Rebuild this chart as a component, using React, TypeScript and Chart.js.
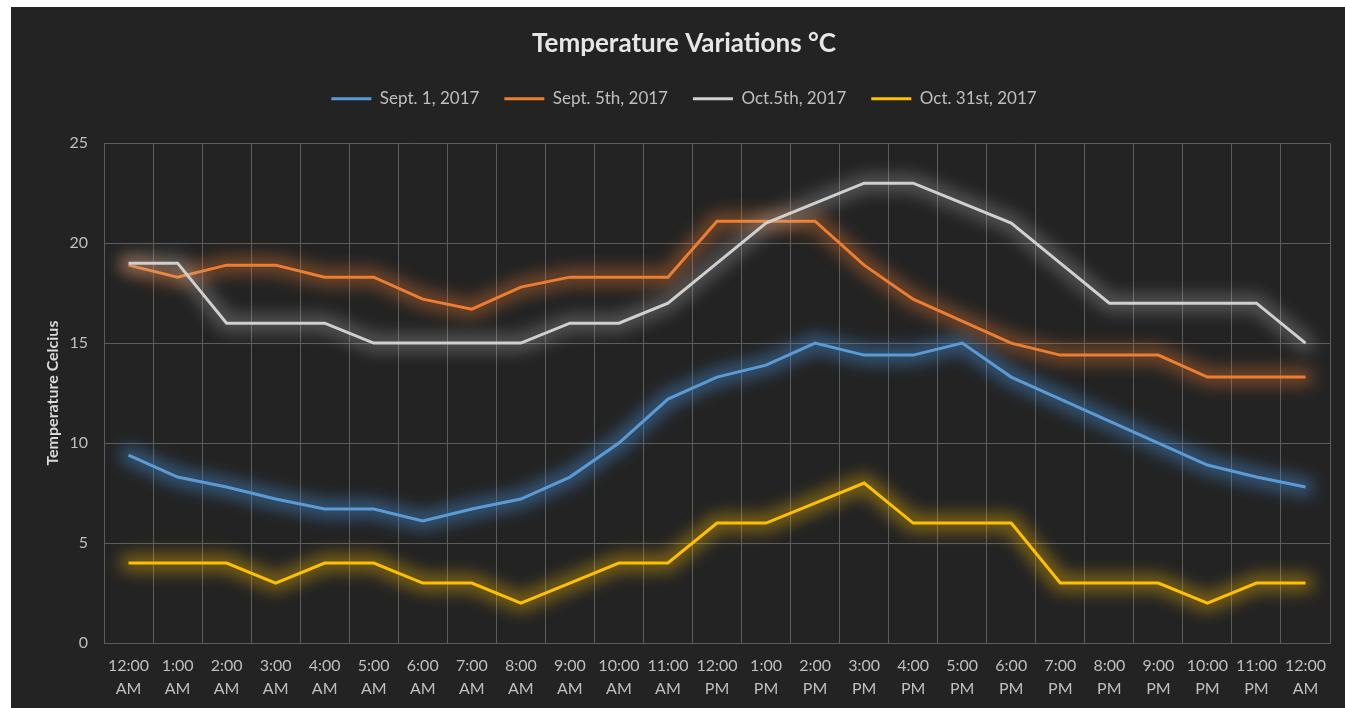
import React, { useEffect, useRef } from "react";
import { Chart, registerables } from "chart.js";

Chart.register(...registerables);

const hourLabels: string[][] = [
  ["12:00", "AM"], ["1:00", "AM"], ["2:00", "AM"], ["3:00", "AM"], ["4:00", "AM"],
  ["5:00", "AM"], ["6:00", "AM"], ["7:00", "AM"], ["8:00", "AM"], ["9:00", "AM"],
  ["10:00", "AM"], ["11:00", "AM"], ["12:00", "PM"], ["1:00", "PM"], ["2:00", "PM"],
  ["3:00", "PM"], ["4:00", "PM"], ["5:00", "PM"], ["6:00", "PM"], ["7:00", "PM"],
  ["8:00", "PM"], ["9:00", "PM"], ["10:00", "PM"], ["11:00", "PM"], ["12:00", "AM"],
];

const seriesNames = ["Sept. 1, 2017", "Sept. 5th, 2017", "Oct.5th, 2017", "Oct. 31st, 2017"];

const sept1 = [9.4, 8.3, 7.8, 7.2, 6.7, 6.7, 6.1, 6.7, 7.2, 8.3, 10.0, 12.2, 13.3, 13.9, 15.0, 14.4, 14.4, 15.0, 13.3, 12.2, 11.1, 10.0, 8.9, 8.3, 7.8];
const sept5 = [18.9, 18.3, 18.9, 18.9, 18.3, 18.3, 17.2, 16.7, 17.8, 18.3, 18.3, 18.3, 21.1, 21.1, 21.1, 18.9, 17.2, 16.1, 15.0, 14.4, 14.4, 14.4, 13.3, 13.3, 13.3];
const oct5 = [19, 19, 16, 16, 16, 15, 15, 15, 15, 16, 16, 17, 19, 21, 22, 23, 23, 22, 21, 19, 17, 17, 17, 17, 15];
const oct31 = [4, 4, 4, 3, 4, 4, 3, 3, 2, 3, 4, 4, 6, 6, 7, 8, 6, 6, 6, 3, 3, 3, 2, 3, 3];

const seriesColors = ["#5b9bd5", "#ed7d31", "#d0d0d0", "#ffc000"];
const glowColors = ["rgba(70,140,210,0.5)", "rgba(237,125,49,0.4)", "rgba(200,200,200,0.3)", "rgba(255,192,0,0.4)"];

const yTicks = { min: 0, max: 25, step: 5 };

const glowPlugin = {
  id: "glow",
  beforeDatasetDraw(chart: any, args: any) {
    const ctx = chart.ctx;
    const pts = args.meta.data;
    if (!pts || !pts.length) return;
    const area = chart.chartArea;
    ctx.save();
    ctx.beginPath();
    ctx.rect(area.left - 20, area.top - 30, area.right - area.left + 40, area.bottom - area.top + 60);
    ctx.clip();
    ctx.filter = "blur(8px)";
    ctx.strokeStyle = glowColors[args.index];
    ctx.lineWidth = 18;
    ctx.lineJoin = "round";
    ctx.lineCap = "round";
    ctx.beginPath();
    pts.forEach((p: any, i: number) => {
      if (i === 0) ctx.moveTo(p.x, p.y);
      else ctx.lineTo(p.x, p.y);
    });
    ctx.stroke();
    ctx.restore();
  },
};

const layoutTweaks = {
  id: "layoutTweaks",
  beforeInit(chart: any) {
    const legend = chart.legend;
    if (!legend) return;
    const origFit = legend.fit;
    legend.fit = function () {
      origFit.call(this);
      this.height += 26;
    };
  },
  afterLayout(chart: any) {
    if (chart.titleBlock) {
      chart.titleBlock.left = 12;
      chart.titleBlock.right = 1334;
    }
    if (chart.legend) {
      chart.legend.left = 12;
      chart.legend.right = 1334;
    }
  },
};

export default function App() {
  const ref = useRef<HTMLCanvasElement>(null);

  useEffect(() => {
    if (!ref.current) return;
    const allData = [sept1, sept5, oct5, oct31];
    const chart = new Chart(ref.current, {
      type: "line",
      data: {
        labels: hourLabels,
        datasets: allData.map((d, i) => ({
          label: seriesNames[i],
          data: d,
          borderColor: seriesColors[i],
          backgroundColor: seriesColors[i],
          borderWidth: 3,
          pointRadius: 0,
          tension: 0,
          order: 3 - i,
        })),
      },
      options: {
        responsive: false,
        animation: false,
        layout: { padding: { left: 0, right: 15, top: 0, bottom: 0 } },
        font: { family: "Lato" },
        plugins: {
          title: {
            display: true,
            text: "Temperature Variations °C",
            color: "#e6e6e6",
            font: { family: "Lato", size: 26, weight: "bold" },
            padding: { top: 21, bottom: 6 },
          },
          legend: {
            display: true,
            position: "top",
            labels: {
              color: "#bfbfbf",
              font: { family: "Lato", size: 17 },
              usePointStyle: true,
              pointStyle: "line",
              pointStyleWidth: 40,
              padding: 25,
              sort: (a: any, b: any) => a.datasetIndex - b.datasetIndex,
            },
          },
          tooltip: { enabled: false },
        },
        scales: {
          x: {
            type: "category",
            offset: true,
            afterFit(scale: any) {
              scale.height = 65;
            },
            grid: { display: true, offset: true, color: "#5c5c5c", lineWidth: 1, drawTicks: false },
            border: { display: true, color: "#5c5c5c" },
            ticks: {
              color: "#bfbfbf",
              font: { family: "Lato", size: 16, lineHeight: 1.44 },
              padding: 11,
              maxRotation: 0,
              autoSkip: false,
            },
          },
          y: {
            min: yTicks.min,
            max: yTicks.max,
            afterFit(scale: any) {
              scale.width = 93;
            },
            grid: { color: "#5c5c5c", lineWidth: 1, drawTicks: false },
            border: { display: true, color: "#5c5c5c" },
            ticks: {
              stepSize: yTicks.step,
              color: "#bfbfbf",
              font: { family: "Lato", size: 16 },
              padding: 16,
            },
            title: {
              display: true,
              text: "Temperature Celcius",
              color: "#d9d9d9",
              font: { family: "Lato", size: 16, weight: "bold" },
              padding: { top: 32, bottom: 0 },
            },
          },
        },
      },
      plugins: [glowPlugin, layoutTweaks],
    } as any);
    return () => chart.destroy();
  }, []);

  return (
    <div
      style={{
        position: "absolute",
        left: 11,
        top: 7,
        width: 1334,
        height: 701,
        background: "#232323",
      }}
    >
      <canvas ref={ref} width={1334} height={701} style={{ display: "block" }} />
    </div>
  );
}
